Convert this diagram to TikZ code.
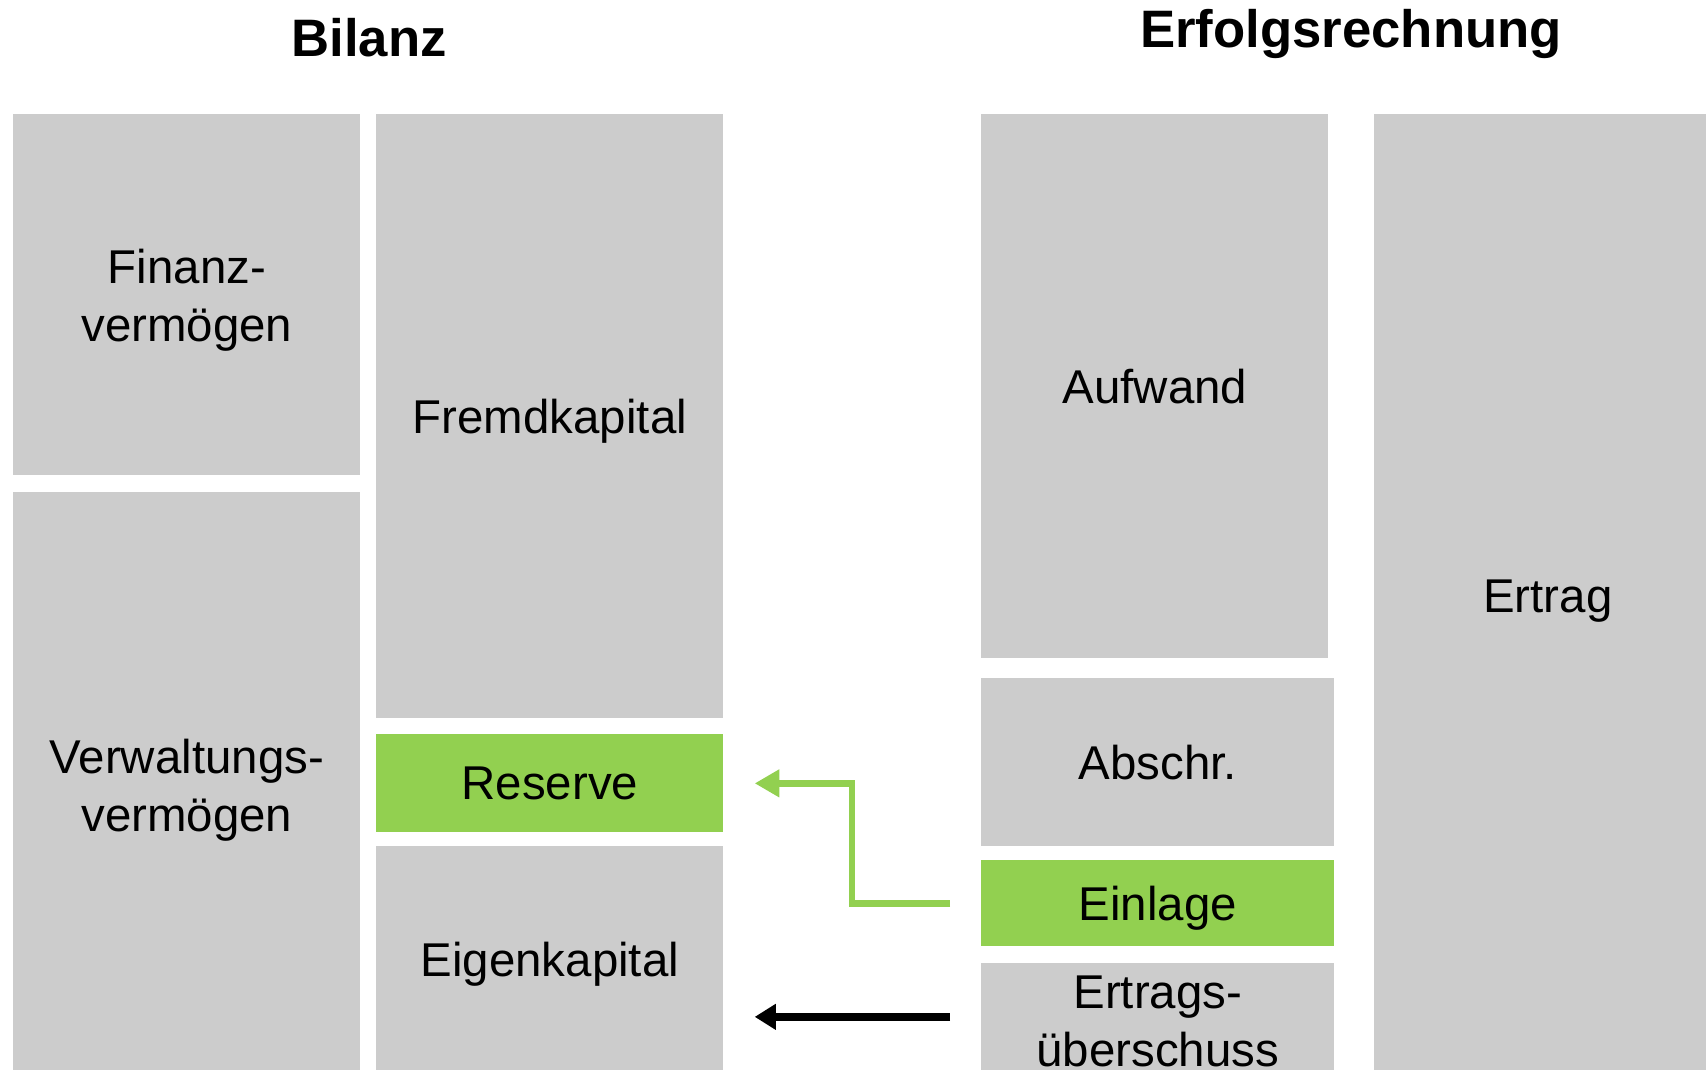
\documentclass[tikz,border=0pt]{standalone}
\usepackage{fontspec}
\setmainfont{Liberation Sans}
\usetikzlibrary{arrows.meta}

\definecolor{kastengrau}{HTML}{CCCCCC}
\definecolor{kastengruen}{HTML}{92D050}
\newcommand{\px}{0.02cm}

\begin{document}
\begin{tikzpicture}[x=0.02cm,y=-0.02cm,
        kasten/.style 2 args={fill=kastengrau, inner sep=0pt, anchor=north west, align=center,
            minimum width=#1*\px, minimum height=#2*\px, text depth=0pt,
            font=\fontsize{27}{33}\selectfont},
        titel/.style={anchor=base, font=\fontsize{30}{36}\selectfont\bfseries},
        pfeilgruen/.style={draw=kastengruen, line width=3.7pt, -{Triangle[length=14pt,width=15pt]},
            shorten <=0.62cm, shorten >=0.62cm},
        pfeilschwarz/.style={draw=black, line width=4.2pt, -{Triangle[length=12pt,width=14pt]},
            shorten <=0.62cm, shorten >=0.62cm}]
        \useasboundingbox (0,0) rectangle (1706,1070);
        \node [titel] (bilanz) at (369,57) {Bilanz};
        \node [titel] (erfolg) at (1351,48) {Erfolgsrechnung};
        \node [kasten={347}{361}] (finanz) at (13,114) {Finanz-\\vermögen};
        \node [kasten={347}{585}] (verwaltung) at (13,492) {Verwaltungs-\\vermögen};
        \node [kasten={347}{604}] (fremd) at (376,114) {Fremdkapital};
        \node [kasten={347}{98}, fill=kastengruen] (reserve) at (376,734) {Reserve};
        \node [kasten={347}{226}] (eigen) at (376,846) {Eigenkapital};
        \node [kasten={347}{544}] (aufwand) at (981,114) {Aufwand};
        \node [kasten={353}{168}] (abschr) at (981,678) {Abschr.};
        \node [kasten={353}{86}, fill=kastengruen] (einlage) at (981,860) {Einlage};
        \node [kasten={353}{116}] (ueberschuss) at (981,963) {Ertrags-\\überschuss};
        \node [kasten={347}{963}] (ertrag) at (1374,114) {Ertrag};
        \coordinate (knick) at (852,902);
        \draw [pfeilgruen] (einlage.west) -- (einlage.west -| knick) |- (reserve.east);
        \draw [pfeilschwarz] ([yshift=0.09cm]ueberschuss.west) -- ([yshift=0.09cm]ueberschuss.west -| eigen.east);
\end{tikzpicture}
\end{document}
